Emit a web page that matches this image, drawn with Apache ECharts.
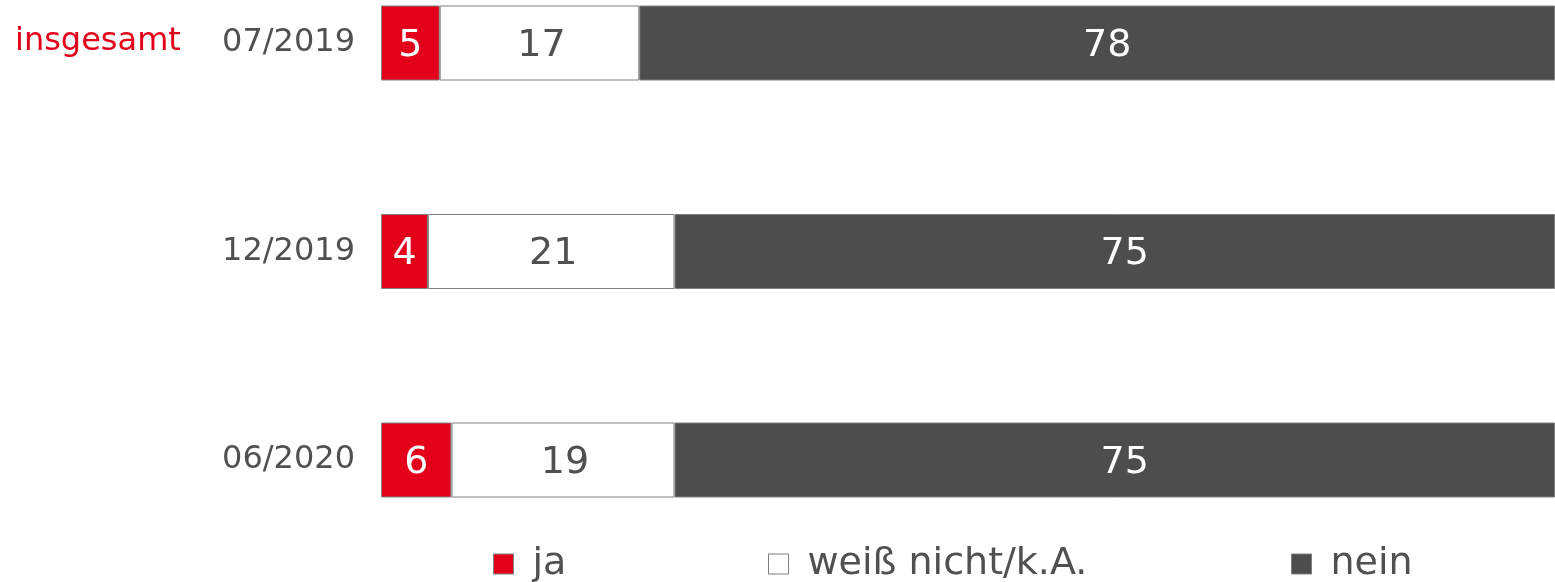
<!DOCTYPE html>
<html>
<head>
<meta charset="utf-8">
<title>insgesamt</title>
<script src="https://cdn.jsdelivr.net/npm/echarts@6/dist/echarts.min.js"></script>
<style>
  html, body { margin: 0; padding: 0; background: #fff; }
  #chart { width: 1555px; height: 582px; }
</style>
</head>
<body>
<div id="chart"></div>
<script>
// Daten
var categories = ["07/2019", "12/2019", "06/2020"];
var ja = [5, 4, 6];
var weissNicht = [17, 21, 19];
var nein = [78, 75, 75];

var RED = "#e2001a";
var DARK = "#4d4d4d";
var TEXT = "#505050";
var FONT = "DejaVu Sans, Verdana, sans-serif";

var chart = echarts.init(document.getElementById("chart"));

function barSeries(name, data, color, labelColor, dx) {
  return {
    name: name,
    type: "bar",
    stack: "total",
    data: data,
    barWidth: 75,
    clip: false,
    itemStyle: { color: color, borderColor: "#808080", borderWidth: 1 },
    label: {
      show: true,
      position: "inside",
      offset: [dx, 3],
      color: labelColor,
      fontSize: 38,
      fontFamily: FONT
    }
  };
}

function legendAt(left, name, color) {
  return {
    left: left,
    top: 544,
    padding: 0,
    data: [{ name: name, itemStyle: { color: color, borderColor: "#808080", borderWidth: 1 } }],
    icon: "rect",
    itemWidth: 20,
    itemHeight: 20,
    selectedMode: false,
    textStyle: { fontSize: 38, fontFamily: FONT, color: TEXT, padding: [0, 0, 0, 14], lineHeight: 40 }
  };
}

chart.setOption({
  animation: false,
  // Balkenmitten liegen auf den Gitterkanten (boundaryGap false)
  grid: { left: 381, right: 0, top: 43, height: 417 },
  xAxis: { type: "value", min: 0, max: 100, show: false },
  yAxis: {
    type: "category",
    inverse: true,
    boundaryGap: false,
    data: categories,
    axisLine: { show: false },
    axisTick: { show: false },
    splitLine: { show: false },
    axisLabel: { margin: 26, fontSize: 32, fontFamily: FONT, color: TEXT, padding: [4, 0, 0, 0] }
  },
  legend: [
    legendAt(493, "ja", RED),
    legendAt(768, "weiß nicht/k.A.", "#ffffff"),
    legendAt(1291, "nein", DARK)
  ],
  graphic: [{
    type: "text",
    left: 15,
    top: 26,
    style: { text: "insgesamt", fill: RED, fontSize: 32, fontFamily: FONT }
  }],
  series: [
    barSeries("ja", ja, RED, "#ffffff", 0),
    barSeries("weiß nicht/k.A.", weissNicht, "#ffffff", TEXT, 2),
    barSeries("nein", nein, DARK, "#ffffff", 10)
  ]
});
</script>
</body>
</html>
